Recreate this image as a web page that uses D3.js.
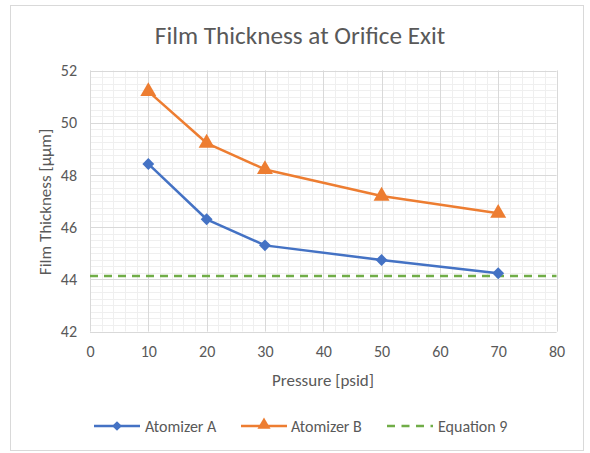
<!DOCTYPE html>
<html><head><meta charset="utf-8">
<script src="https://cdn.jsdelivr.net/npm/d3@7"></script>
<style>body{margin:0;background:#fff;} text{font-family:Carlito,"Open Sans","Liberation Sans",sans-serif;}</style>
</head><body>
<svg id="c" width="590" height="453"></svg>
<script>
const pressure = [10, 20, 30, 50, 70];
const atomizerA = [48.42, 46.3, 45.3, 44.74, 44.23];
const atomizerB = [51.2, 49.22, 48.21, 47.19, 46.53];
const equation9 = 44.13;
const xTicks = [0, 10, 20, 30, 40, 50, 60, 70, 80];
const yTicks = [42, 44, 46, 48, 50, 52];
const seriesNames = ["Atomizer A", "Atomizer B", "Equation 9"];

const svg = d3.select("#c");
svg.append("rect").attr("x",10.5).attr("y",5.5).attr("width",573).attr("height",445)
  .attr("fill","#fff").attr("stroke","#d9d9d9").attr("stroke-width",1);

const x = d3.scaleLinear().domain([0,80]).range([90,556.5]);
const y = d3.scaleLinear().domain([42,52]).range([331.5,70.5]);

const g = svg.append("g");
g.selectAll(".mx").data(d3.range(0,80.01,2)).join("line")
  .attr("x1",d=>Math.round(x(d))+0.5).attr("x2",d=>Math.round(x(d))+0.5)
  .attr("y1",y(52)).attr("y2",y(42)).attr("stroke","#efefef").attr("stroke-width",1);
g.selectAll(".my").data(d3.range(42,52.01,0.25)).join("line")
  .attr("y1",d=>Math.round(y(d))+0.5).attr("y2",d=>Math.round(y(d))+0.5)
  .attr("x1",x(0)).attr("x2",x(80)).attr("stroke","#efefef").attr("stroke-width",1);
g.selectAll(".Mx").data(xTicks).join("line")
  .attr("x1",d=>Math.round(x(d))+0.5).attr("x2",d=>Math.round(x(d))+0.5)
  .attr("y1",y(52)).attr("y2",y(42)).attr("stroke","#d9d9d9").attr("stroke-width",1);
g.selectAll(".My").data(yTicks).join("line")
  .attr("y1",d=>Math.round(y(d))+0.5).attr("y2",d=>Math.round(y(d))+0.5)
  .attr("x1",x(0)).attr("x2",x(80)).attr("stroke","#d9d9d9").attr("stroke-width",1);

const xa = svg.append("g").attr("transform",`translate(0,${y(42)})`)
  .call(d3.axisBottom(x).tickValues(xTicks).tickSize(0).tickPadding(14));
const ya = svg.append("g").attr("transform",`translate(${x(0)},0)`)
  .call(d3.axisLeft(y).tickValues(yTicks).tickSize(0).tickPadding(13));
[xa,ya].forEach(a=>{a.select(".domain").remove();
  a.selectAll("text").attr("fill","#595959").style("font-size","16px")
   .style("font-family",'Carlito,"Open Sans","Liberation Sans",sans-serif');});

svg.append("text").attr("x",300).attr("y",44).attr("text-anchor","middle")
  .attr("fill","#595959").style("font-size","25.2px").text("Film Thickness at Orifice Exit");
svg.append("text").attr("x",323).attr("y",386).attr("text-anchor","middle")
  .attr("fill","#595959").style("font-size","17px").text("Pressure [psid]");
svg.append("text").attr("transform","translate(51,202) rotate(-90)").attr("text-anchor","middle")
  .attr("fill","#595959").style("font-size","17px").text("Film Thickness [µµm]");

const colors = ["#4472C4","#ED7D31","#70AD47"];
const line = d3.line().x(d=>x(d[0])).y(d=>y(d[1]));

svg.append("line").attr("x1",x(0)).attr("x2",x(80)).attr("y1",y(equation9)).attr("y2",y(equation9))
  .attr("stroke",colors[2]).attr("stroke-width",2.5).attr("stroke-dasharray","8,6");

const diamond = d3.symbol().type(d3.symbolDiamond2).size(90);
const tri = d3.symbol().type(d3.symbolTriangle).size(110);

[[atomizerA,diamond],[atomizerB,tri]].forEach(([vals,sym],i)=>{
  const pts = pressure.map((p,j)=>[p,vals[j]]);
  svg.append("path").attr("d",line(pts)).attr("fill","none").attr("stroke",colors[i])
    .attr("stroke-width",2.5).attr("stroke-linejoin","round");
  svg.selectAll(null).data(pts).join("path").attr("d",sym)
    .attr("transform",d=>`translate(${x(d[0])},${y(d[1])})`).attr("fill",colors[i]);
});

const leg = [[94,145],[241,291],[387,438]];
const ly = 426;
seriesNames.forEach((n,i)=>{
  const [lx,tx] = leg[i];
  const l = svg.append("line").attr("x1",lx).attr("x2",lx+46).attr("y1",ly).attr("y2",ly)
    .attr("stroke",colors[i]).attr("stroke-width",2.5);
  if(i===2) l.attr("stroke-dasharray","8,6.5");
  if(i===0) svg.append("path").attr("d",d3.symbol().type(d3.symbolDiamond2).size(60)).attr("transform",`translate(${lx+23},${ly})`).attr("fill",colors[0]);
  if(i===1) svg.append("path").attr("d",d3.symbol().type(d3.symbolTriangle).size(75)).attr("transform",`translate(${lx+23},${ly-1})`).attr("fill",colors[1]);
  svg.append("text").attr("x",tx).attr("y",ly+5.5).attr("fill","#595959").style("font-size","16px").text(n);
});
</script>
</body></html>
